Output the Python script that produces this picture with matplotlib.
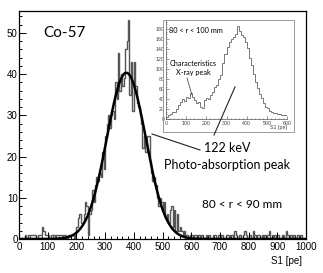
import numpy as np
import matplotlib
matplotlib.use('Agg')
import matplotlib.pyplot as plt
from matplotlib.lines import Line2D
from matplotlib.patches import Rectangle
from matplotlib.ticker import MultipleLocator

plt.rcParams['font.family'] = ['Liberation Sans', 'DejaVu Sans']

# main histogram: S1 [pe], 5 pe bins from 0 to 1000
bin_width = 5
counts = [
    0, 0, 0, 0, 1, 0, 1, 1, 1, 1,
    1, 1, 0, 1, 1, 1, 3, 2, 1, 1,
    1, 0, 1, 1, 1, 0, 1, 1, 1, 1,
    0, 1, 1, 0, 1, 1, 1, 1, 0, 1,
    3, 5, 6, 4, 4, 6, 9, 8, 1, 6,
    7, 12, 9, 13, 15, 14, 16, 15, 21, 17,
    25, 28, 30, 27, 30, 31, 29, 38, 34, 45,
    36, 40, 37, 39, 46, 48, 53, 35, 43, 31,
    43, 37, 33, 32, 30, 28, 22, 25, 21, 25,
    25, 19, 16, 14, 15, 13, 10, 8, 10, 9,
    7, 9, 5, 6, 4, 7, 8, 3, 7, 2,
    6, 2, 3, 2, 1, 2, 1, 1, 0, 1,
    1, 0, 1, 1, 0, 1, 0, 1, 0, 0,
    1, 0, 1, 0, 0, 1, 1, 0, 0, 1,
    0, 1, 0, 0, 1, 1, 0, 1, 1, 0,
    2, 1, 0, 1, 1, 0, 1, 2, 1, 0,
    1, 1, 0, 2, 1, 0, 1, 1, 0, 1,
    0, 1, 0, 1, 2, 0, 1, 0, 1, 0,
    1, 0, 0, 1, 1, 0, 2, 1, 0, 1,
    0, 1, 0, 0, 1, 0, 1, 0, 0, 0,
]

# gaussian fit parameters
fit_amp = 40.3
fit_mean = 374.0
fit_sigma = 68.0

# inset histogram (80 < r < 100 mm), 10 pe bins from 0 to 600
inset_bin_width = 10
inset_counts = [
    4, 9, 11, 14, 15, 20, 29, 34, 40, 37,
    45, 42, 53, 44, 38, 32, 35, 24, 22, 39,
    42, 40, 49, 55, 64, 69, 80, 89, 112, 130,
    145, 155, 160, 165, 170, 186, 176, 169, 165, 155,
    142, 122, 108, 90, 75, 62, 50, 42, 32, 25,
    22, 17, 15, 13, 12, 11, 10, 9, 9, 8,
]

W, H = 323, 273


def px(x, y):
    return x / W, 1 - y / H


def main():
    fig = plt.figure(figsize=(W / 100, H / 100), dpi=100)
    ax = fig.add_axes([19 / W, 1 - 239 / H, 287 / W, 228.5 / H])

    edges = np.arange(0, bin_width * len(counts) + 1, bin_width)
    ax.stairs(counts, edges, color='#555555', linewidth=1.0, baseline=None)

    xs = np.linspace(0, 1000, 600)
    ax.plot(xs, fit_amp * np.exp(-(xs - fit_mean) ** 2 / (2 * fit_sigma ** 2)),
            color='black', linewidth=1.8)

    ax.set_xlim(0, 1000)
    ax.set_ylim(0, 55.4)
    ax.xaxis.set_major_locator(MultipleLocator(100))
    ax.xaxis.set_minor_locator(MultipleLocator(20))
    ax.yaxis.set_major_locator(MultipleLocator(10))
    ax.yaxis.set_minor_locator(MultipleLocator(2))
    ax.tick_params(which='both', direction='in', top=False, right=False,
                   labelsize=7, width=0.7)
    ax.tick_params(which='major', length=5)
    ax.tick_params(which='minor', length=2.5)
    ax.tick_params(axis='x', pad=2)
    ax.tick_params(axis='y', pad=1)
    for s in ax.spines.values():
        s.set_linewidth(0.9)

    fig.text(*px(302, 261), 'S1 [pe]', ha='right', va='center', fontsize=7)

    txt = dict(family=['Lato', 'DejaVu Sans'], color='black')
    fig.text(*px(43, 33), 'Co-57', ha='left', va='center', fontsize=11, **txt)
    fig.text(*px(227, 147.5), '122 keV', ha='center', va='center', fontsize=9, **txt)
    fig.text(*px(227, 165), 'Photo-absorption peak', ha='center', va='center',
             fontsize=9, **txt)
    fig.text(*px(242, 204), '80 < r < 90 mm', ha='center', va='center',
             fontsize=8.5, **txt)

    # pointer lines
    for (x0, y0), (x1, y1) in [((152, 134), (200, 150)), ((235, 87), (214, 135))]:
        a, b = px(x0, y0)
        c, d = px(x1, y1)
        fig.add_artist(Line2D([a, c], [b, d], color='#222222', linewidth=0.8))

    # inset
    fig.add_artist(Rectangle(px(163, 132), 131 / W, 112 / H, fill=False,
                             edgecolor='#9a9a9a', linewidth=0.7))
    ins = fig.add_axes([166 / W, 1 - 119.3 / H, 121 / W, 99.3 / H])
    ins.patch.set_alpha(0)
    iedges = np.arange(0, inset_bin_width * len(inset_counts) + 1, inset_bin_width)
    ins.stairs(inset_counts, iedges, color='#777777', linewidth=0.7, baseline=None)
    ins.set_xlim(0, 600)
    ins.set_ylim(0, 199)
    ins.xaxis.set_major_locator(MultipleLocator(100))
    ins.xaxis.set_minor_locator(MultipleLocator(20))
    ins.yaxis.set_major_locator(MultipleLocator(20))
    ins.yaxis.set_minor_locator(MultipleLocator(5))
    ins.tick_params(which='both', direction='in', top=False, right=False,
                    labelsize=3.8, width=0.4, pad=1, colors='#444444')
    ins.tick_params(which='major', length=2)
    ins.tick_params(which='minor', length=1)
    ins.spines['top'].set_visible(False)
    ins.spines['right'].set_visible(False)
    for s in ('left', 'bottom'):
        ins.spines[s].set_linewidth(0.5)
        ins.spines[s].set_color('#555555')
    fig.text(*px(287, 128), 'S1 [pe]', ha='right', va='center', fontsize=3.8,
             color='#444444')
    fig.text(*px(169, 30), '80 < r < 100 mm', ha='left', va='center',
             fontsize=5.3, **txt)
    fig.text(*px(193, 63), 'Characteristics', ha='center', va='center',
             fontsize=5.2, **txt)
    fig.text(*px(193, 72), 'X-ray peak', ha='center', va='center',
             fontsize=5.2, **txt)
    a, b = px(187, 78)
    c, d = px(192, 95)
    fig.add_artist(Line2D([a, c], [b, d], color='#333333', linewidth=0.5))

    fig.savefig('out.png', dpi=100)


if __name__ == '__main__':
    main()
